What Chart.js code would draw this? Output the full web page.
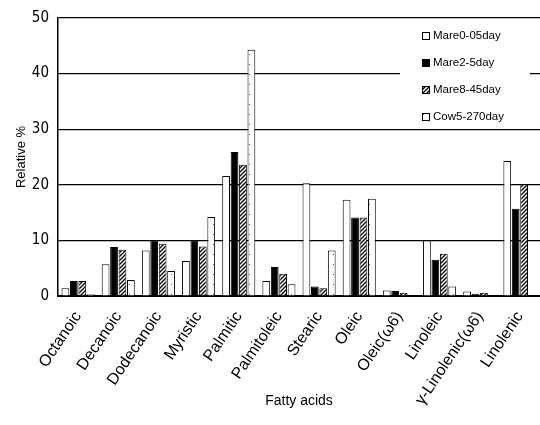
<!DOCTYPE html>
<html>
<head>
<meta charset="utf-8">
<script src="https://cdn.jsdelivr.net/npm/chart.js@4.4.0/dist/chart.umd.min.js"></script>
<style>
  html, body { margin: 0; padding: 0; background: #fff; }
  #wrap { width: 540px; height: 425px; }
</style>
</head>
<body>
<div id="wrap"><canvas id="fatty-chart" width="540" height="425"></canvas></div>
<script>
'use strict';

var FATTY_ACIDS = ['Octanoic', 'Decanoic', 'Dodecanoic', 'Myristic', 'Palmitic', 'Palmitoleic',
  'Stearic', 'Oleic', 'Oleic(ω6)', 'Linoleic', 'γ-Linolenic(ω6)', 'Linolenic'];
var SERIES_NAMES = ['Mare0-05day', 'Mare2-5day', 'Mare8-45day', 'Cow5-270day'];
var MARE0 = [1.4, 5.7, 8.2, 6.3, 21.6, 2.7, 20.3, 17.3, 1.0, 10.0, 0.8, 24.3];
var MARE2 = [2.7, 8.8, 10.0, 10.0, 25.9, 5.2, 1.7, 14.1, 0.9, 6.5, 0.4, 15.7];
var MARE8 = [2.7, 8.3, 9.4, 8.9, 23.6, 4.0, 1.4, 14.1, 0.6, 7.6, 0.6, 20.1];
var COW = [0.3, 2.9, 4.5, 14.2, 44.3, 2.1, 8.2, 17.5, 0, 1.7, 0, 0];
var Y_TICKS = [0, 10, 20, 30, 40, 50];

var FONT = "'Liberation Sans', Arial, sans-serif";
var NARROW = "'Liberation Sans Narrow', 'DejaVu Sans Condensed', 'Liberation Sans', sans-serif";

// hatched and dotted fills
function hatchPattern() {
  var c = document.createElement('canvas');
  c.width = 4; c.height = 4;
  var g = c.getContext('2d');
  g.fillStyle = '#fff';
  g.fillRect(0, 0, 4, 4);
  g.strokeStyle = '#000';
  g.lineWidth = 1.3;
  g.beginPath();
  g.moveTo(0, 4); g.lineTo(4, 0);
  g.moveTo(-1, 1); g.lineTo(1, -1);
  g.moveTo(3, 5); g.lineTo(5, 3);
  g.stroke();
  return g.createPattern(c, 'repeat');
}

function dotPattern() {
  var c = document.createElement('canvas');
  c.width = 6; c.height = 10;
  var g = c.getContext('2d');
  g.fillStyle = '#fff';
  g.fillRect(0, 0, 6, 10);
  g.fillStyle = '#555';
  g.fillRect(3, 4, 1, 1);
  return g.createPattern(c, 'repeat');
}

var FILLS = ['#ffffff', '#000000', hatchPattern(), dotPattern()];
var VALUES = [MARE0, MARE2, MARE8, COW];

var datasets = SERIES_NAMES.map(function (name, i) {
  return {
    label: name,
    data: VALUES[i],
    backgroundColor: FILLS[i],
    borderColor: '#000',
    borderWidth: 1,
    categoryPercentage: 0.84,
    barPercentage: 0.92
  };
});

// legend drawn inside the plot, top right, over a white box
var boxLegend = {
  id: 'boxLegend',
  afterDatasetsDraw: function (chart) {
    var ctx = chart.ctx;
    ctx.save();
    ctx.fillStyle = '#fff';
    ctx.fillRect(400, 24, 130, 96);
    ctx.font = '11.5px ' + FONT;
    ctx.textBaseline = 'middle';
    chart.data.datasets.forEach(function (ds, i) {
      var y = 36 + i * 27;
      ctx.fillStyle = ds.backgroundColor;
      ctx.fillRect(422, y - 4, 8, 8);
      ctx.strokeStyle = '#000';
      ctx.lineWidth = 1;
      ctx.strokeRect(422.5, y - 3.5, 7, 7);
      ctx.fillStyle = '#000';
      ctx.fillText(ds.label, 433, y);
    });
    ctx.restore();
  }
};

var ctx = document.getElementById('fatty-chart').getContext('2d');
new Chart(ctx, {
  type: 'bar',
  data: {
    labels: FATTY_ACIDS,
    datasets: datasets
  },
  plugins: [boxLegend],
  options: {
    responsive: false,
    animation: false,
    layout: {
      padding: { top: 14, right: 0, bottom: 15, left: 14 }
    },
    plugins: {
      legend: { display: false },
      title: { display: false },
      tooltip: { enabled: false }
    },
    scales: {
      x: {
        grid: { display: false },
        border: { display: true, color: '#000', width: 2 },
        ticks: {
          color: '#000',
          font: { family: FONT, size: 16 },
          minRotation: 56,
          maxRotation: 56,
          autoSkip: false,
          padding: 4
        },
        title: {
          display: true,
          text: 'Fatty acids',
          color: '#000',
          font: { family: FONT, size: 14 },
          padding: { top: 0, bottom: 0 }
        },
        afterFit: function (scale) { scale.height = 114; }
      },
      y: {
        min: 0,
        max: 50,
        afterBuildTicks: function (scale) {
          scale.ticks = Y_TICKS.map(function (v) { return { value: v }; });
        },
        grid: { color: '#000', lineWidth: 1.2, drawTicks: false },
        border: { display: true, color: '#000', width: 1.5 },
        ticks: {
          color: '#000',
          font: { family: NARROW, size: 15 },
          padding: 9
        },
        title: {
          display: true,
          text: 'Relative %',
          color: '#000',
          font: { family: FONT, size: 13 },
          padding: { top: 0, bottom: 0 }
        },
        afterFit: function (scale) { scale.width = 44; }
      }
    }
  }
});
</script>
</body>
</html>
